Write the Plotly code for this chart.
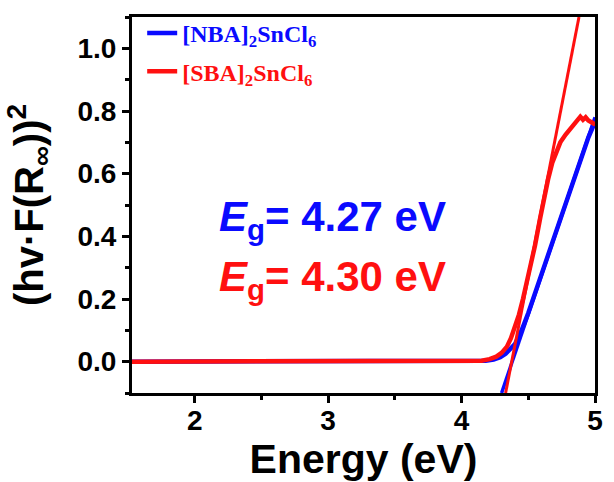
import plotly.graph_objects as go

# Measured spectra (hv·F(R∞))^2 vs energy
nba_energy = [1.53, 2.0, 2.5, 3.0, 3.5, 3.9, 4.10, 4.18, 4.24, 4.29, 4.33, 4.37, 4.40, 4.45, 4.50, 4.60, 4.70, 4.80, 4.85, 4.90, 4.95, 5.00]
nba_value  = [0.0, 0.0, 0.0, 0.0, 0.0, 0.0, 0.001, 0.003, 0.007, 0.014, 0.025, 0.04, 0.056, 0.10, 0.155, 0.28, 0.405, 0.53, 0.59, 0.655, 0.715, 0.765]

sba_energy = [1.53, 2.0, 2.5, 3.0, 3.5, 3.9, 4.08, 4.15, 4.21, 4.26, 4.30, 4.34, 4.37, 4.40, 4.43, 4.46, 4.50, 4.55, 4.59, 4.62, 4.65, 4.68, 4.71, 4.74, 4.78, 4.81, 4.84, 4.86, 4.875, 4.89, 4.91, 4.93, 4.95, 4.97, 4.99, 5.00]
sba_value  = [0.0, 0.0, 0.0, 0.0, 0.0, 0.0, 0.001, 0.003, 0.008, 0.016, 0.028, 0.048, 0.075, 0.11, 0.15, 0.20, 0.27, 0.37, 0.46, 0.525, 0.585, 0.635, 0.672, 0.70, 0.725, 0.74, 0.755, 0.765, 0.775, 0.782, 0.772, 0.78, 0.77, 0.765, 0.76, 0.765]

# Linear (Tauc) fit lines
nba_fit_energy = [4.30, 5.00]
nba_fit_value = [-0.10, 0.78]
sba_fit_energy = [4.33, 4.88]
sba_fit_value = [-0.10, 1.10]

nba_label = "[NBA]<sub>2</sub>SnCl<sub>6</sub>"
sba_label = "[SBA]<sub>2</sub>SnCl<sub>6</sub>"
eg_nba = "<i>E</i><sub>g</sub>= 4.27 eV"
eg_sba = "<i>E</i><sub>g</sub>= 4.30 eV"

x_ticks = [2, 3, 4, 5]
y_ticks = [0.0, 0.2, 0.4, 0.6, 0.8, 1.0]
y_ticklabels = ["0.0", "0.2", "0.4", "0.6", "0.8", "1.0"]

BLUE = "#0a0aff"
RED = "#ff1010"

fig = go.Figure()
fig.add_trace(go.Scatter(x=nba_energy, y=nba_value, mode="lines",
                         line=dict(color=BLUE, width=4.5), legendgroup="nba",
                         name=f"<span style='color:{BLUE}'>{nba_label}</span>"))
fig.add_trace(go.Scatter(x=nba_fit_energy, y=nba_fit_value, mode="lines",
                         line=dict(color=BLUE, width=3.5), showlegend=False))
fig.add_trace(go.Scatter(x=sba_energy, y=sba_value, mode="lines",
                         line=dict(color=RED, width=4.5), legendgroup="sba",
                         name=f"<span style='color:{RED}'>{sba_label}</span>"))
fig.add_trace(go.Scatter(x=sba_fit_energy, y=sba_fit_value, mode="lines",
                         line=dict(color=RED, width=3), showlegend=False))

axis_common = dict(showline=True, linecolor="black", linewidth=3, mirror=True,
                   ticks="outside", ticklen=7, tickwidth=2.5, tickcolor="black",
                   showgrid=False, zeroline=False,
                   tickfont=dict(family="Liberation Sans", size=28, color="black", weight="bold"))

fig.update_xaxes(range=[1.53, 5.0], tickvals=x_ticks, ticklabelstandoff=-7,
                 minor=dict(ticks="outside", ticklen=4, tickwidth=2.5, tickcolor="black", dtick=0.5, tick0=0),
                 title=dict(text="Energy (eV)", standoff=6,
                            font=dict(family="Liberation Sans", size=41, color="black", weight="bold")),
                 **axis_common)
fig.update_yaxes(range=[-0.1, 1.1], tickvals=y_ticks, ticktext=y_ticklabels,
                 minor=dict(ticks="outside", ticklen=4, tickwidth=2.5, tickcolor="black", dtick=0.1, tick0=0),
                 title=dict(text="(hv·F(R<sub>∞</sub>))<sup>2</sup>", standoff=22,
                            font=dict(family="Liberation Sans", size=40, color="black", weight="bold")),
                 **axis_common)

fig.add_annotation(x=0.183, y=0.455, xref="paper", yref="y", xanchor="left", yanchor="middle",
                   text=eg_nba, showarrow=False,
                   font=dict(family="Liberation Sans", size=42, color=BLUE, weight="bold"))
fig.add_annotation(x=0.183, y=0.262, xref="paper", yref="y", xanchor="left", yanchor="middle",
                   text=eg_sba, showarrow=False,
                   font=dict(family="Liberation Sans", size=42, color=RED, weight="bold"))

fig.update_layout(width=614, height=482, margin=dict(l=132, r=11, t=15, b=89),
                  plot_bgcolor="white", paper_bgcolor="white",
                  legend=dict(x=0.022, y=1.016, xanchor="left", yanchor="top",
                              bgcolor="rgba(0,0,0,0)",
                              font=dict(family="Liberation Serif", size=24, weight="bold"),
                              itemwidth=30, tracegroupgap=4))

fig.write_html("out.html")
